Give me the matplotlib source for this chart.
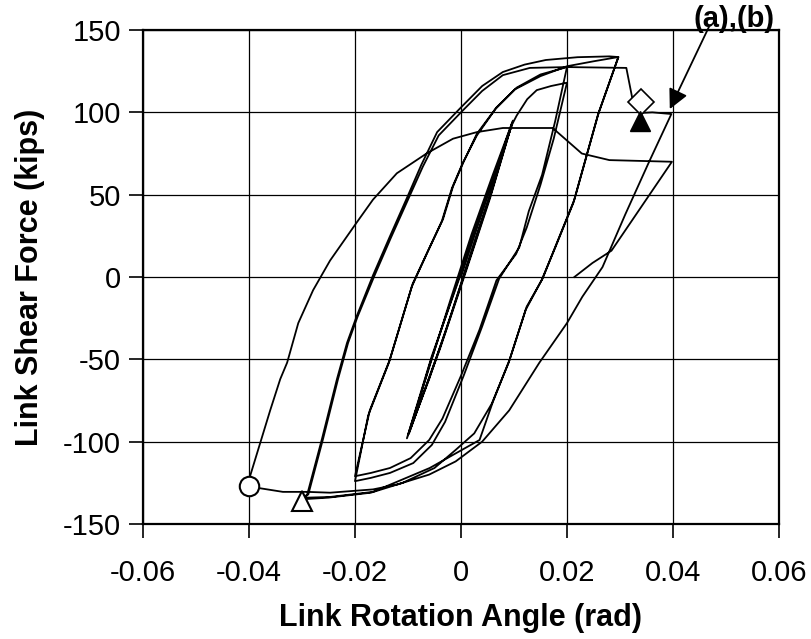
import matplotlib
matplotlib.use("Agg")
import matplotlib.pyplot as plt
import numpy as np

plt.rcParams['font.family'] = ['Liberation Sans', 'DejaVu Sans']
plt.rcParams['axes.unicode_minus'] = False

# load path (rotation rad, shear kips)
elastic = [(0.0, 0.0), (0.005, 50), (0.0097, 94),
           (0.006, 56), (0.002, 16), (-0.002, -24), (-0.006, -62), (-0.0100, -96),
           (-0.006, -55), (-0.002, -14), (0.002, 26), (0.006, 62), (0.0098, 95),
           (0.0055, 48), (0.001, 4), (-0.004, -44), (-0.0102, -98),
           (-0.0055, -48), (0.0, 2), (0.005, 50), (0.0096, 93),
           (0.0058, 52), (0.0015, 10), (-0.003, -34), (-0.0098, -95),
           (-0.0058, -52), (-0.001, -6), (0.004, 42), (0.0097, 93)]
load_02a = [(0.0105, 98), (0.0125, 108), (0.0143, 113.5), (0.017, 116), (0.02, 118)]
unload_02a = [(0.0175, 84), (0.015, 56), (0.0124, 30), (0.0104, 14), (0.0067, -2),
              (0.0035, -32), (0.0, -60), (-0.0035, -86), (-0.006, -99),
              (-0.0095, -110), (-0.0134, -116), (-0.017, -119), (-0.02, -121)]
load_02b = [(-0.0172, -81), (-0.0134, -50), (-0.0091, -4), (-0.0059, 18),
            (-0.0034, 35), (-0.0015, 55), (0.0005, 70), (0.003, 87), (0.0067, 103),
            (0.0105, 115), (0.015, 123), (0.02, 127.5)]
unload_02b = [(0.0178, 95), (0.0153, 62), (0.0128, 40), (0.011, 18), (0.0072, -1),
              (0.004, -30), (0.0005, -60), (-0.003, -88), (-0.0055, -102),
              (-0.009, -113), (-0.0134, -119), (-0.017, -122), (-0.02, -124)]
load_03a = [(-0.0175, -84), (-0.0136, -52), (-0.0093, -6), (-0.0062, 16),
            (-0.0036, 34), (-0.0017, 54), (0.0003, 69), (0.003, 86), (0.0065, 102),
            (0.0102, 114), (0.015, 122), (0.02, 128), (0.025, 131), (0.0297, 133.6)]
unload_03a = [(0.026, 100), (0.0214, 47), (0.018, 20), (0.0154, -1), (0.0124, -18),
              (0.0092, -50), (0.006, -76), (0.0035, -99), (-0.0059, -116),
              (-0.0166, -130.5), (-0.0247, -133.6), (-0.029, -134), (-0.030, -135)]
load_03b = [(-0.029, -132), (-0.0262, -98), (-0.0234, -62), (-0.0215, -40),
            (-0.0197, -24), (-0.0166, 1), (-0.0135, 24), (-0.0102, 48),
            (-0.0075, 68), (-0.0045, 88), (0.0, 103), (0.004, 116), (0.0079, 124.5),
            (0.012, 129), (0.016, 131.8), (0.022, 133.5), (0.028, 134), (0.0297, 133.6)]
unload_03b = [(0.0258, 98), (0.0212, 45), (0.0178, 18), (0.0152, -2), (0.0122, -20),
              (0.009, -52), (0.0058, -77), (0.0025, -95), (-0.001, -105),
              (-0.005, -116), (-0.011, -125), (-0.017, -131), (-0.025, -134),
              (-0.030, -135)]
load_04 = [(-0.0288, -132), (-0.026, -98), (-0.0232, -62), (-0.0213, -40),
           (-0.0195, -24), (-0.0163, 1), (-0.0132, 24), (-0.0100, 47),
           (-0.0072, 67), (-0.0042, 86), (0.0003, 101), (0.004, 113),
           (0.0079, 122.6), (0.013, 127), (0.02, 127.5), (0.0312, 127),
           (0.0323, 109), (0.0338, 106), (0.0338, 99.6), (0.0361, 100), (0.0397, 99)]
unload_04 = [(0.0355, 70), (0.031, 38), (0.0267, 6), (0.0229, -12), (0.02, -28),
             (0.0148, -52), (0.0091, -81), (0.004, -100), (-0.001, -112),
             (-0.006, -120), (-0.012, -126), (-0.0166, -129), (-0.0247, -131),
             (-0.029, -130.5), (-0.0336, -130.5), (-0.0385, -128), (-0.040, -127)]
reload_final = [(-0.0398, -121), (-0.036, -81), (-0.0341, -62), (-0.0328, -52),
                (-0.0307, -28), (-0.0279, -8), (-0.0247, 10), (-0.0197, 33),
                (-0.0166, 47), (-0.0121, 63), (-0.0065, 75), (-0.0015, 84),
                (0.003, 88), (0.0079, 90.5), (0.0173, 90.5), (0.0228, 75),
                (0.028, 71), (0.0398, 70)]
unload_final = [(0.0284, 16), (0.0248, 8.5), (0.0214, 0)]

segments = [elastic, load_02a, unload_02a, load_02b, unload_02b, load_03a,
            unload_03a, load_03b, unload_03b, load_04, unload_04,
            reload_final, unload_final]

# event markers
circle_pt = (-0.040, -127)
open_tri_pt = (-0.030, -136)
diamond_pt = (0.0339, 106.4)
filled_tri_pt = (0.0338, 95)

xticks = [-0.06, -0.04, -0.02, 0, 0.02, 0.04, 0.06]
xtick_labels = ['-0.06', '-0.04', '-0.02', '0', '0.02', '0.04', '0.06']
yticks = [-150, -100, -50, 0, 50, 100, 150]

path = np.array([p for seg in segments for p in seg])

fig = plt.figure(figsize=(8.11, 6.39), dpi=100)
ax = fig.add_axes([0.1763, 0.18, 0.7842, 0.773])

ax.plot(path[:, 0], path[:, 1], color='black', lw=1.3, zorder=3)

ax.plot(*circle_pt, 'o', ms=14, mfc='white', mec='black', mew=1.5, zorder=4)
ax.plot(*open_tri_pt, '^', ms=14, mfc='white', mec='black', mew=1.5, zorder=4)
ax.plot(*diamond_pt, 'D', ms=13, mfc='white', mec='black', mew=1.2, zorder=4)
ax.plot(*filled_tri_pt, '^', ms=14, mfc='black', mec='black', zorder=4)

ax.set_xlim(-0.06, 0.06)
ax.set_ylim(-150, 150)
ax.set_xticks(xticks)
ax.set_xticklabels(xtick_labels)
ax.set_yticks(yticks)
ax.grid(True, color='black', lw=0.9)
ax.set_axisbelow(True)
for s in ax.spines.values():
    s.set_linewidth(1.6)
    s.set_color('black')
ax.tick_params(direction='out', length=10, width=1.2, labelsize=21)
ax.tick_params(axis='x', pad=15)
ax.tick_params(axis='y', pad=6)

ax.set_xlabel('Link Rotation Angle (rad)', fontsize=22, fontweight='bold', labelpad=12)
ax.set_ylabel('Link Shear Force (kips)', fontsize=22, fontweight='bold', labelpad=13)

ax.text(0.0515, 157, '(a),(b)', fontsize=21, fontweight='bold', ha='center', va='center',
        clip_on=False)
ax.annotate('', xy=(0.0394, 102), xytext=(0.0468, 152),
            arrowprops=dict(arrowstyle='-|>', mutation_scale=30, lw=1.3, color='black',
                            shrinkA=0, shrinkB=0),
            annotation_clip=False)

fig.savefig('out.png', dpi=100)
